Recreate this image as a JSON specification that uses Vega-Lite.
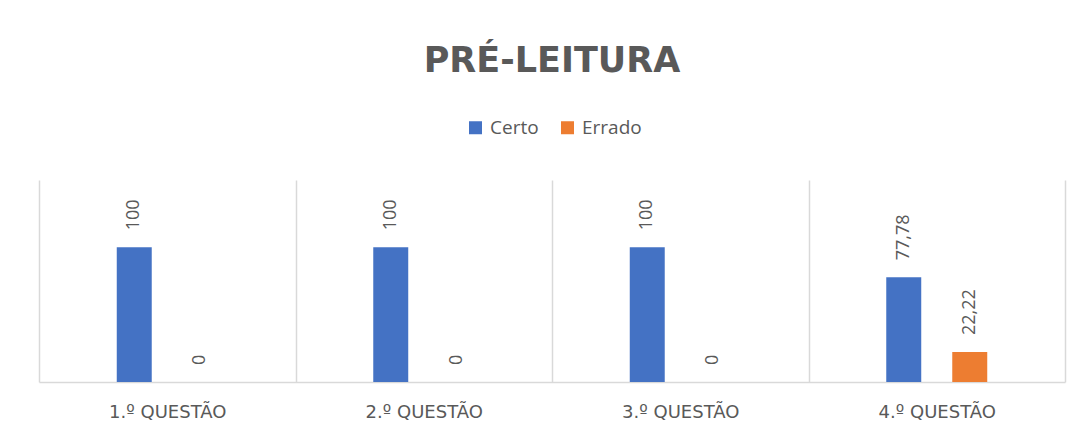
{
  "$schema": "https://vega.github.io/schema/vega-lite/v6.json",
  "width": 1026,
  "height": 202,
  "autosize": "none",
  "padding": {"left": 39, "top": 180, "right": 14, "bottom": 48},
  "background": "white",
  "title": {
    "text": "PRÉ-LEITURA",
    "font": "DejaVu Sans",
    "fontSize": 35,
    "fontWeight": "bold",
    "color": "#595959",
    "anchor": "middle",
    "baseline": "alphabetic",
    "offset": 11
  },
  "data": {
    "values": [
      {"q": "1.º QUESTÃO", "s": "Certo", "v": 100, "label": "100"},
      {"q": "1.º QUESTÃO", "s": "Errado", "v": 0, "label": "0"},
      {"q": "2.º QUESTÃO", "s": "Certo", "v": 100, "label": "100"},
      {"q": "2.º QUESTÃO", "s": "Errado", "v": 0, "label": "0"},
      {"q": "3.º QUESTÃO", "s": "Certo", "v": 100, "label": "100"},
      {"q": "3.º QUESTÃO", "s": "Errado", "v": 0, "label": "0"},
      {"q": "4.º QUESTÃO", "s": "Certo", "v": 77.78, "label": "77,78"},
      {"q": "4.º QUESTÃO", "s": "Errado", "v": 22.22, "label": "22,22"}
    ]
  },
  "encoding": {
    "x": {
      "field": "q",
      "type": "nominal",
      "sort": null,
      "scale": {"paddingInner": 0, "paddingOuter": 0},
      "axis": {
        "title": null,
        "ticks": false,
        "tickSize": 0,
        "tickBand": "extent",
        "grid": true,
        "gridColor": "#d9d9d9",
        "gridWidth": 1.5,
        "domainColor": "#d9d9d9",
        "domainWidth": 1.5,
        "labelAngle": 0,
        "labelFont": "DejaVu Sans",
        "labelFontSize": 18,
        "labelColor": "#595959",
        "labelPadding": 21
      }
    },
    "xOffset": {
      "field": "s",
      "type": "nominal",
      "scale": {"domain": ["_a", "Certo", "Errado", "_b"], "paddingInner": 0.47, "paddingOuter": 0.178}
    },
    "y": {
      "field": "v",
      "type": "quantitative",
      "scale": {"domain": [0, 150]},
      "axis": null
    }
  },
  "layer": [
    {
      "mark": {"type": "bar"},
      "encoding": {
        "color": {
          "field": "s",
          "type": "nominal",
          "scale": {"domain": ["Certo", "Errado"], "range": ["#4472C4", "#ED7D31"]},
          "legend": {
            "orient": "none",
            "legendX": 427,
            "legendY": -62,
            "direction": "horizontal",
            "title": null,
            "symbolType": "square",
            "symbolSize": 169,
            "symbolStrokeWidth": 0,
            "labelFont": "Open Sans",
            "labelFontSize": 19,
            "labelColor": "#595959",
            "labelOffset": 5,
            "columnPadding": 19
          }
        }
      }
    },
    {
      "mark": {
        "type": "text",
        "angle": -90,
        "align": "left",
        "baseline": "middle",
        "dx": 17,
        "font": "Open Sans",
        "fontSize": 18,
        "color": "#595959"
      },
      "encoding": {"text": {"field": "label"}}
    }
  ],
  "config": {"view": {"stroke": null}}
}
